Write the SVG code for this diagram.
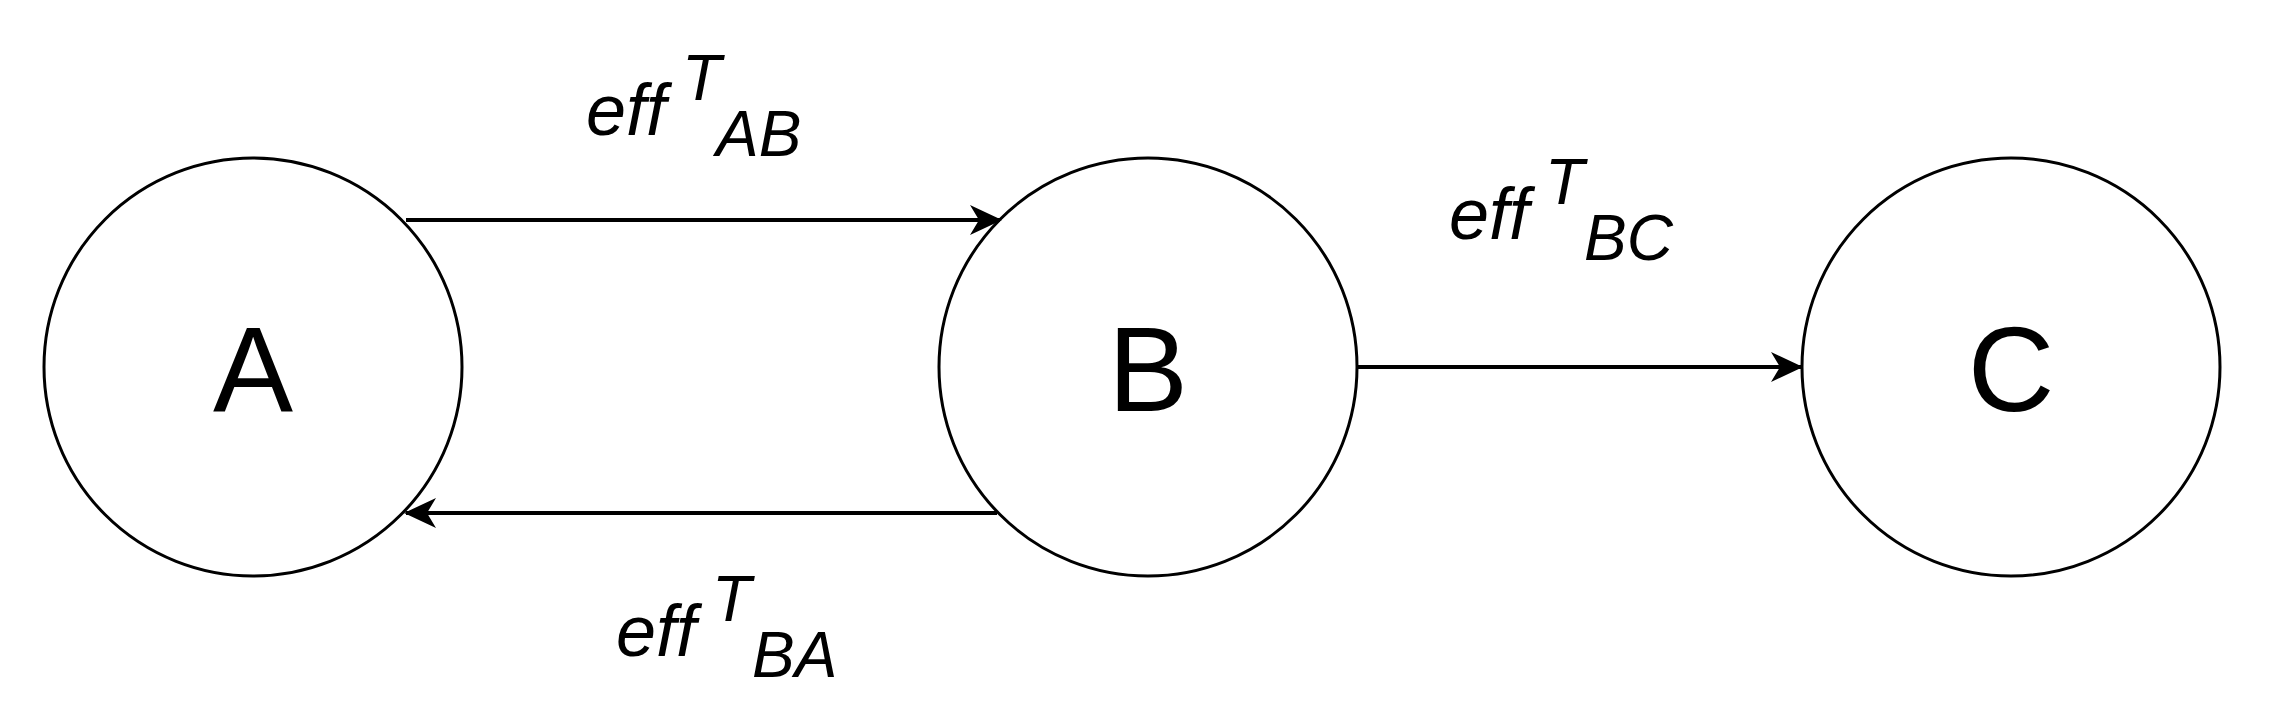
<svg xmlns="http://www.w3.org/2000/svg" width="2272" height="720" viewBox="0 0 2272 720">
<style>
.n{fill:#fff;stroke:#000;stroke-width:3}
.big{font-family:"Liberation Sans",Arial,sans-serif;font-size:120px;text-anchor:middle}
.lab{font-family:"Liberation Sans",Arial,sans-serif;font-size:72px;font-style:italic}
.sm{font-size:64px}
.e{stroke:#000;stroke-width:4;fill:none;marker-end:url(#ah)}
</style>
<defs><marker id="ah" viewBox="0 0 32 30" refX="30" refY="15" markerWidth="32" markerHeight="30" markerUnits="userSpaceOnUse" orient="auto"><path d="M0,0 L32,15 L0,30 L9,15 Z" fill="#000"/></marker></defs>
<rect width="2272" height="720" fill="#fff"/>
<g id="A"><circle class="n" cx="253" cy="367" r="209"/><text class="big" x="253" y="411">A</text></g>
<g id="B"><circle class="n" cx="1148" cy="367" r="209"/><text class="big" x="1148" y="411">B</text></g>
<g id="C"><circle class="n" cx="2011" cy="367" r="209"/><text class="big" x="2011" y="411">C</text></g>
<g id="edges">
<path class="e" d="M406,220 H1000"/>
<path class="e" d="M997,513 H406"/>
<path class="e" d="M1357,367 H1801"/>
</g>
<g id="labels">
<text class="lab" x="586" y="135">eff<tspan class="sm" x="682" y="100">T</tspan><tspan class="sm" x="716" y="156">AB</tspan></text>
<text class="lab" x="616" y="656">eff<tspan class="sm" x="712" y="621">T</tspan><tspan class="sm" x="752" y="677">BA</tspan></text>
<text class="lab" x="1449" y="239">eff<tspan class="sm" x="1545" y="204">T</tspan><tspan class="sm" x="1584" y="260">BC</tspan></text>
</g>
</svg>
